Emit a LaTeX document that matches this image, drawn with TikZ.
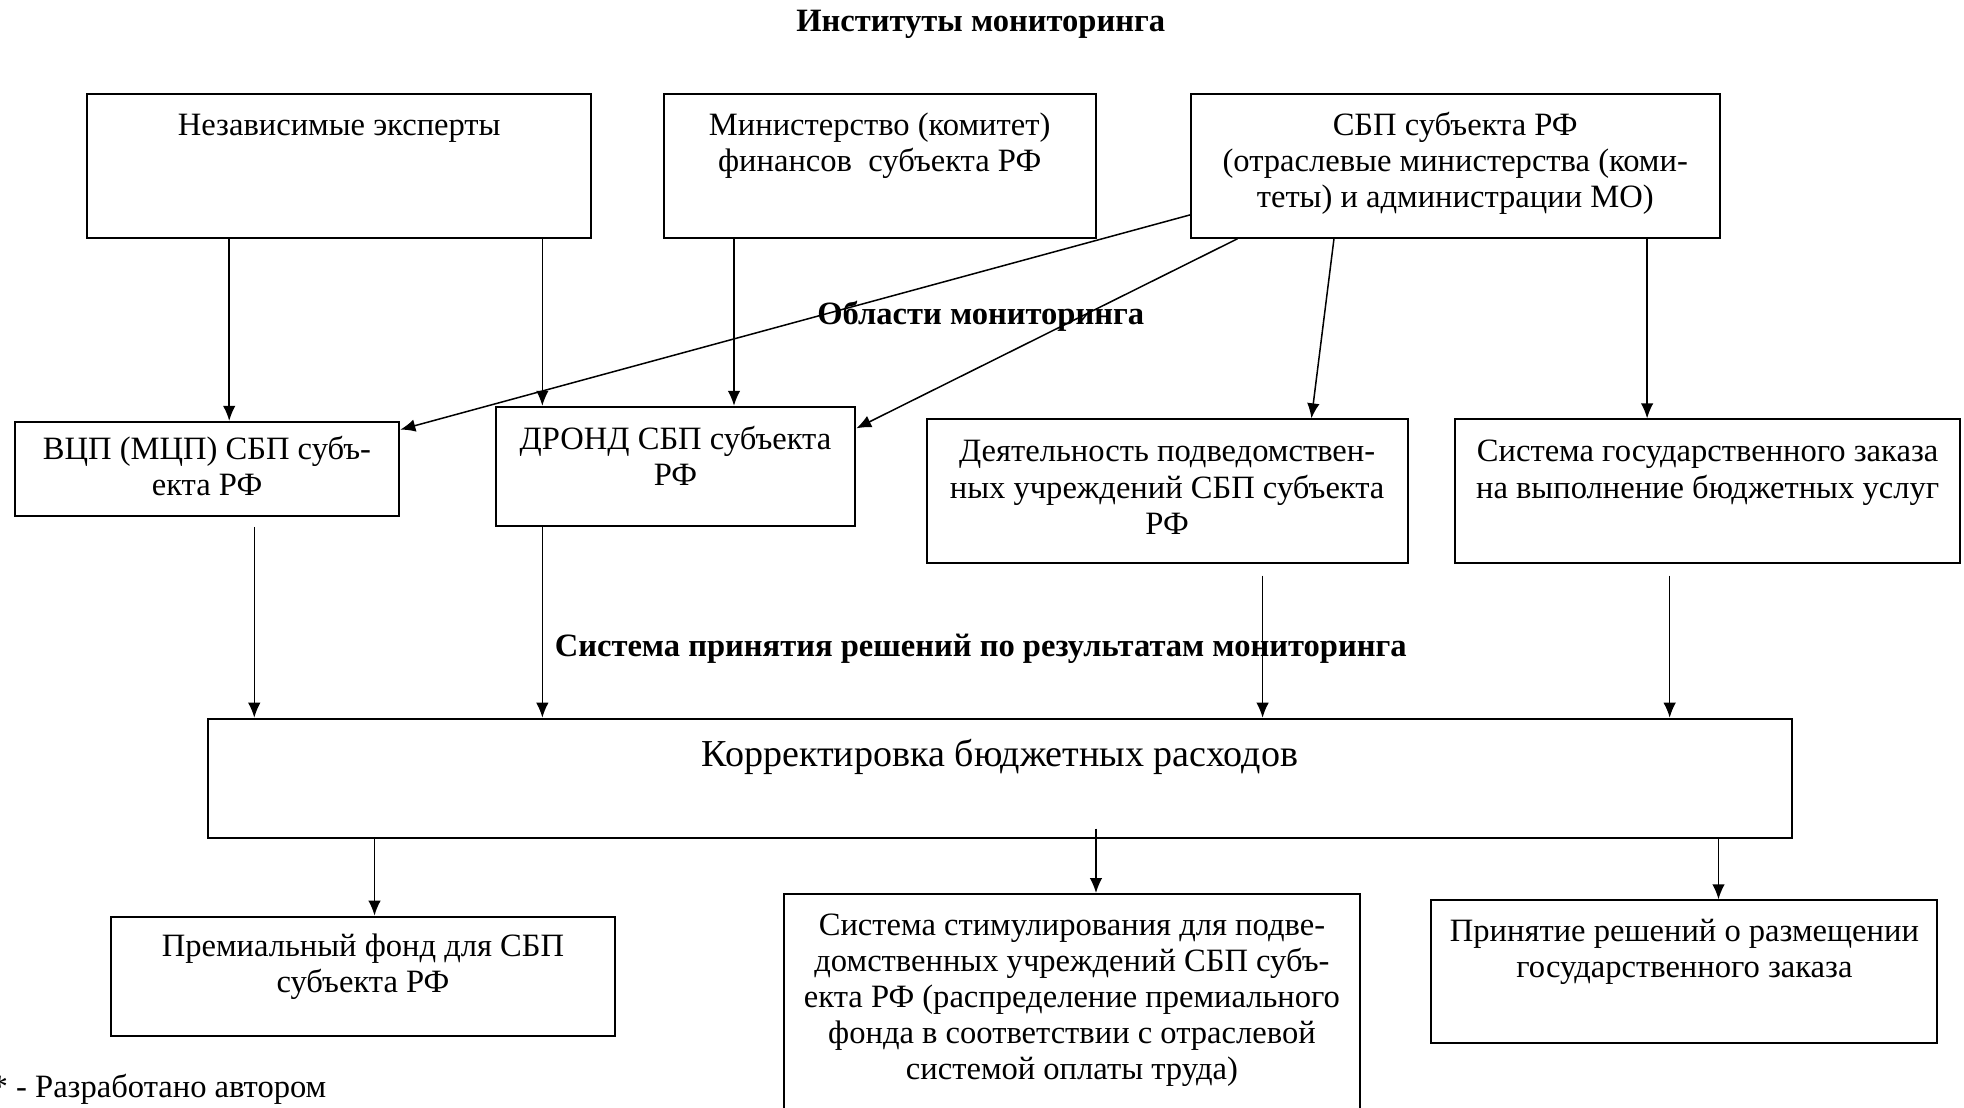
\documentclass[tikz,border=0pt]{standalone}
\usepackage{fontspec}
\setmainfont{Liberation Serif}
\usepackage{xcolor}
\usetikzlibrary{arrows.meta}
\tikzstyle{blockbox} = [draw=black,line width=0.8pt,rectangle,inner sep=0pt,
  anchor=north west,font=\fontsize{13}{14.4}\selectfont]
\tikzstyle{headtext} = [anchor=base,inner sep=0pt,font=\fontsize{13}{14.4}\selectfont\bfseries]
\tikzstyle{notetext} = [anchor=base west,inner sep=0pt,font=\fontsize{13}{14.4}\selectfont]
\tikzstyle{arrowline} = [line width=0.6pt,-{Latex[length=6pt,width=5pt]}]
\newcommand{\blocktext}[4]{%
  \begin{minipage}[t][#2][t]{#1}\centering\rule{0pt}{#3}#4\end{minipage}}

\begin{document}
\begin{tikzpicture}[x=0.5pt,y=-0.5pt]
    \useasboundingbox (0,0) rectangle (1568,883.8);
    \node [headtext] (inst) at (783,25) {Институты мониторинга};
    \node [headtext] (areas) at (783,259) {Области мониторинга};
    \node [headtext] (decis) at (783,524) {Система принятия решений по результатам мониторинга};
    % institutes
    \node [blockbox] (experts) at (69,74) {%
      \blocktext{201pt}{57.5pt}{16.5pt}{Независимые эксперты}};
    \node [blockbox] (minfin) at (529,74) {%
      \blocktext{172.5pt}{57.5pt}{16.5pt}{Министерство (комитет)\\ финансов\ \ субъекта РФ}};
    \node [blockbox] (sbp) at (950,74) {%
      \blocktext{211pt}{57.5pt}{16.5pt}{СБП субъекта РФ\\ (отраслевые министерства (коми-\\ теты) и администрации МО)}};
    % areas
    \node [blockbox] (vcp) at (11,336) {%
      \blocktext{153.5pt}{37.5pt}{15pt}{ВЦП (МЦП) СБП субъ-\\ екта РФ}};
    \node [blockbox] (drond) at (395,324) {%
      \blocktext{143.5pt}{47.5pt}{17pt}{ДРОНД СБП субъекта\\ РФ}};
    \node [blockbox] (activ) at (739,334) {%
      \blocktext{192pt}{57.5pt}{17pt}{Деятельность подведомствен-\\ ных учреждений СБП субъекта\\ РФ}};
    \node [blockbox] (order) at (1161,334) {%
      \blocktext{201.5pt}{57.5pt}{17pt}{Система государственного заказа\\ на выполнение бюджетных услуг}};
    % decisions
    \node [blockbox] (correct) at (165,573) {%
      \blocktext{632.5pt}{47.5pt}{19pt}{\fontsize{15.2}{17}\selectfont Корректировка бюджетных расходов}};
    \node [blockbox] (fund) at (88,731) {%
      \blocktext{201pt}{47.5pt}{16pt}{Премиальный фонд для СБП\\ субъекта РФ}};
    \node [blockbox] (stim) at (625,713) {%
      \blocktext{230pt}{100pt}{16.5pt}{Система стимулирования для подве-\\ домственных учреждений СБП субъ-\\ екта РФ (распределение премиального\\ фонда в соответствии с отраслевой\\ системой оплаты труда)}};
    \node [blockbox] (place) at (1142,718) {%
      \blocktext{202pt}{57pt}{16.5pt}{Принятие решений о размещении\\ государственного заказа}};
    \node [notetext] (note) at (-7,876) {* - Разработано автором};
    % connectors
    \draw [arrowline] ([xshift=57pt]experts.south west) coordinate (e1) -- (e1 |- vcp.north);
    \draw [arrowline] ([xshift=182pt]experts.south west) coordinate (e2) -- (e2 |- drond.north);
    \draw [arrowline] ([xshift=28.5pt]minfin.south west) coordinate (m1) -- (m1 |- drond.north);
    \draw [arrowline] ([yshift=9.5pt]sbp.south west) -- ([yshift=-3.5pt]vcp.north east);
    \draw [arrowline] ([xshift=19pt]sbp.south west) -- ([yshift=-9pt]drond.north east);
    \draw [arrowline] ([xshift=57.5pt]sbp.south west) -- ([xshift=154pt]activ.north west);
    \draw [arrowline] ([xshift=182.5pt]sbp.south west) coordinate (s4) -- (s4 |- order.north);
    \draw [arrowline] ([xshift=96pt,yshift=-4pt]vcp.south west) coordinate (v1) -- (v1 |- correct.north);
    \draw [arrowline] ([xshift=19pt]drond.south west) coordinate (d1) -- (d1 |- correct.north);
    \draw [arrowline] ([xshift=134.5pt,yshift=-4.5pt]activ.south west) coordinate (a1) -- (a1 |- correct.north);
    \draw [arrowline] ([xshift=86pt,yshift=-4.5pt]order.south west) coordinate (o1) -- (o1 |- correct.north);
    \draw [arrowline] ([xshift=67pt]correct.south west) coordinate (c1) -- (c1 |- fund.north);
    \draw [arrowline] ([xshift=355pt,yshift=4pt]correct.south west) coordinate (c2) -- (c2 |- stim.north);
    \draw [arrowline] ([xshift=603.5pt]correct.south west) coordinate (c3) -- (c3 |- place.north);
  \end{tikzpicture}
\end{document}
